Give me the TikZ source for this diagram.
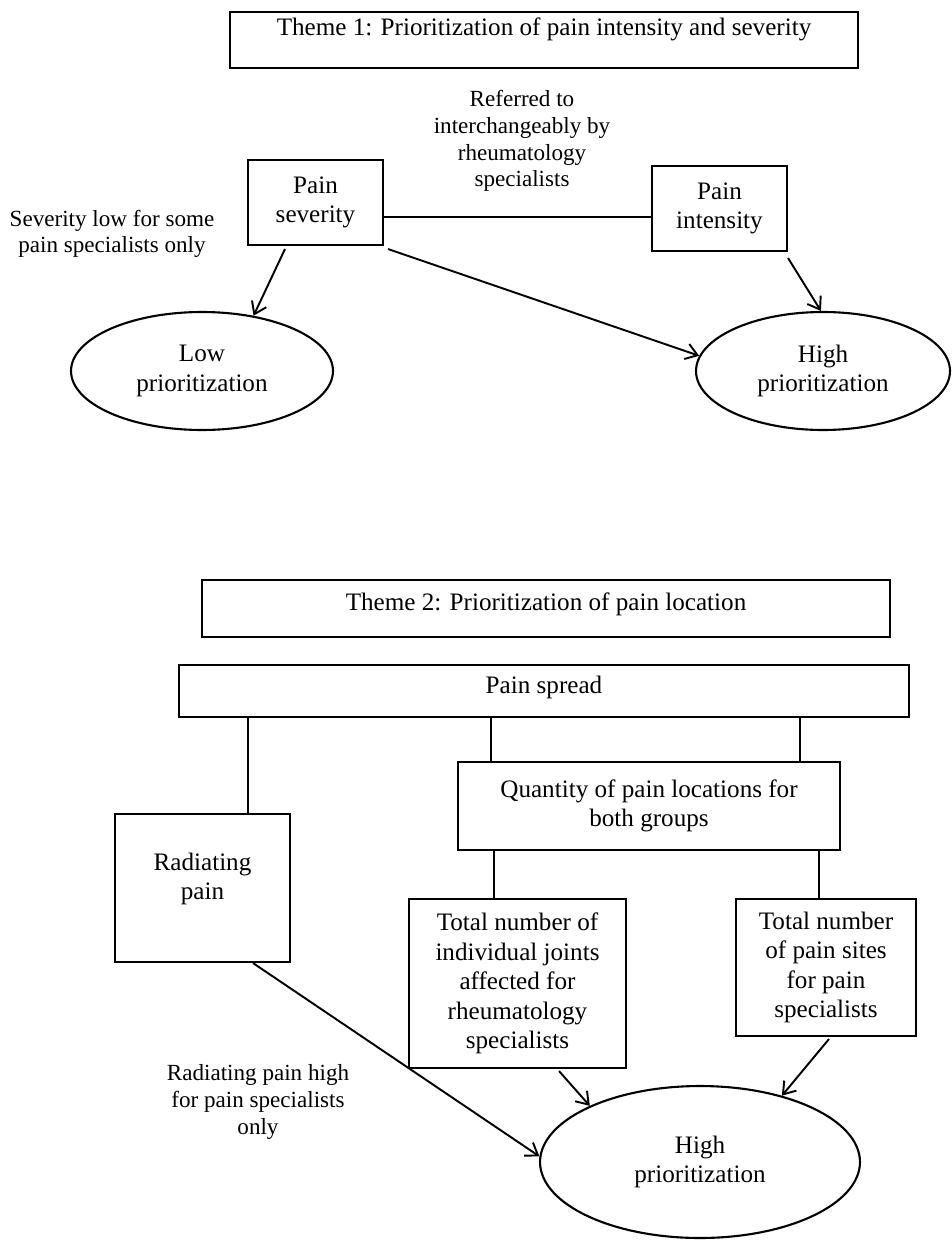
\documentclass[tikz,border=0pt]{standalone}
\usepackage{fontspec}
\setmainfont{Liberation Serif}
\usepackage{tikz}
\usetikzlibrary{shapes.geometric,arrows.meta,calc}

\begin{document}
\begin{tikzpicture}[
    x=0.02cm,y=-0.02cm,
    box/.style={draw,black,line width=1.2pt,inner sep=0pt,align=center,
      font=\fontsize{14.3}{16.8}\selectfont},
    oval/.style={draw,black,ellipse,line width=1.2pt,inner sep=0pt,align=center,
      font=\fontsize{14.3}{16.8}\selectfont},
    txt/.style={inner sep=0pt,align=center,font=\fontsize{14.3}{16.2}\selectfont},
    lbl/.style={inner sep=0pt,align=center,font=\fontsize{13.15}{15.2}\selectfont},
    link/.style={line width=1.1pt},
    arr/.style={line width=1.1pt,-{Straight Barb[length=6.5pt,width=9pt]}}
    ]
    \useasboundingbox (0,0) rectangle (951,1240);
    % theme 1
    \node[box,minimum width=12.56cm,text height=0.48cm,text depth=0.64cm] (theme1) at (544,40) {Theme 1: Prioritization of pain intensity and severity};
    \node[box,minimum width=2.7cm,minimum height=1.7cm] (sev) at (315.5,202.5) {Pain\\severity};
    \node[box,minimum width=2.7cm,minimum height=1.7cm] (inten) at (719.5,208.5) {Pain\\intensity};
    \node[oval,minimum width=5.24cm,minimum height=2.36cm] (low) at (202,371) {Low\\prioritization};
    \node[oval,minimum width=5.08cm,minimum height=2.36cm] (high1) at (823,371) {High\\prioritization};
    \node[lbl] (refer) at (522,141) {Referred to\\interchangeably by\\rheumatology\\specialists};
    \node[lbl] (sevlow) at (112,234) {Severity low for some\\pain specialists only};
    \draw[link] (sev.east) ++(0,14.5) coordinate (s1) -- (s1 -| inten.west);
    \draw[arr] ($(sev.south)+(-30.5,3)$) -- (low.47);
    \draw[arr] ($(sev.south east)+(4,3)$) -- (high1.173);
    \draw[arr] ($(inten.south east)+(0,6)$) -- (high1.92);
    % theme 2
    \node[box,minimum width=13.76cm,text height=0.6cm,text depth=0.54cm] (theme2) at (546,608.5) {Theme 2: Prioritization of pain location};
    \node[box,minimum width=14.6cm,text height=0.56cm,text depth=0.48cm] (spread) at (544,691) {Pain spread};
    \node[box,minimum width=7.64cm,minimum height=1.76cm] (quant) at (649,806) {Quantity of pain locations for\\both groups};
    \node[box,minimum width=3.5cm,minimum height=2.96cm,
      label={[txt,yshift=0.18cm]center:Radiating\\pain}] (rad) at (202.5,888) {};
    \node[box,minimum width=4.34cm,minimum height=3.38cm] (tot1) at (517.5,983.5) {Total number of\\individual joints\\affected for\\rheumatology\\specialists};
    \node[box,minimum width=3.6cm,minimum height=2.74cm] (tot2) at (826,967.5) {Total number\\of pain sites\\for pain\\specialists};
    \node[oval,minimum width=6.4cm,minimum height=3.04cm] (high2) at (700,1162) {High\\prioritization};
    \node[lbl] (radlab) at (258,1102) {Radiating pain high\\for pain specialists\\only};
    \draw[link] ($(rad.north)+(45.5,0)$) coordinate (r1) -- (r1 |- spread.south);
    \draw[link] ($(quant.north)+(-158,0)$) coordinate (q1) -- (q1 |- spread.south);
    \draw[link] ($(quant.north)+(151,0)$) coordinate (q2) -- (q2 |- spread.south);
    \draw[link] ($(tot1.north)+(-23.5,0)$) coordinate (t1) -- (t1 |- quant.south);
    \draw[link] ($(tot2.north)+(-7,0)$) coordinate (t2) -- (t2 |- quant.south);
    \draw[arr] ($(rad.south)+(50.5,0)$) -- (high2.178);
    \draw[arr] ($(tot1.south)+(41.5,2)$) -- (high2.153);
    \draw[arr] ($(tot2.south)+(3,2)$) -- (high2.39);
\end{tikzpicture}
\end{document}
